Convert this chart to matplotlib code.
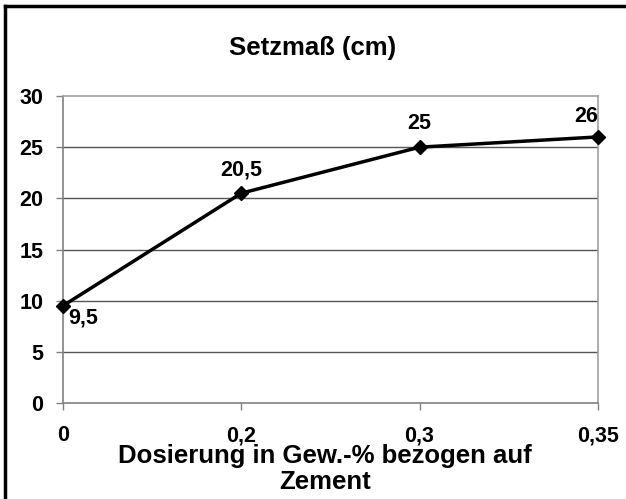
import matplotlib.pyplot as plt
from matplotlib.lines import Line2D
import numpy as np

plt.rcParams['font.family'] = ['Liberation Sans', 'DejaVu Sans']
plt.rcParams['font.weight'] = 'bold'

# data
dosierung = ['0', '0,2', '0,3', '0,35']
setzmass = [9.5, 20.5, 25, 26]
value_labels = ['9,5', '20,5', '25', '26']
y_ticks = [0, 5, 10, 15, 20, 25, 30]

fig = plt.figure(figsize=(6.26, 4.99), dpi=100)
ax = fig.add_axes([0.1006, 0.1924, 0.8544, 0.6152])

x = np.arange(len(dosierung))

# horizontal gridlines
for yv in y_ticks[1:-1]:
    ax.axhline(yv, color='#555555', linewidth=1, zorder=1)

ax.plot(x, setzmass, color='black', linewidth=2.5, marker='D',
        markersize=7, zorder=3, clip_on=False)

# data labels (offsets in points)
offsets = [(4, -9, 'left'), (0, 16.5, 'center'), (0, 17, 'center'), (0, 14.5, 'right')]
for xi, yi, lab, (dx, dy, ha) in zip(x, setzmass, value_labels, offsets):
    ax.annotate(lab, (xi, yi), xytext=(dx, dy), textcoords='offset points',
                ha=ha, va='center', fontsize=15.5, fontweight='bold')

ax.set_xlim(0, len(dosierung) - 1)
ax.set_ylim(0, 30)
ax.set_xticks(x)
ax.set_xticklabels(dosierung)
ax.set_yticks(y_ticks)
ax.tick_params(axis='both', labelsize=15.5, length=5, color='#808080', width=1)
ax.tick_params(axis='x', pad=11)
ax.tick_params(axis='y', pad=9)

for side in ['left', 'bottom']:
    ax.spines[side].set_color('#808080')
for side in ['top', 'right']:
    ax.spines[side].set_color('#a0a0a0')
for sp in ax.spines.values():
    sp.set_linewidth(1.2)

fig.text(0.5, 1 - 48 / 499, 'Setzmaß (cm)', fontsize=18.5, fontweight='bold',
         ha='center', va='center')
ax.set_xlabel('Dosierung in Gew.-% bezogen auf\nZement', fontsize=18.5,
              fontweight='bold', linespacing=1.1)
ax.xaxis.set_label_coords(0.49, -0.135)
ax.xaxis.label.set_va('top')

# outer frame (only left and top visible in the reference)
fig.add_artist(Line2D([0.008, 0.008], [0, 0.988], transform=fig.transFigure,
                      color='black', linewidth=2.5))
fig.add_artist(Line2D([0.008, 1], [0.988, 0.988], transform=fig.transFigure,
                      color='black', linewidth=2.5))

fig.savefig('out.png', dpi=100)
